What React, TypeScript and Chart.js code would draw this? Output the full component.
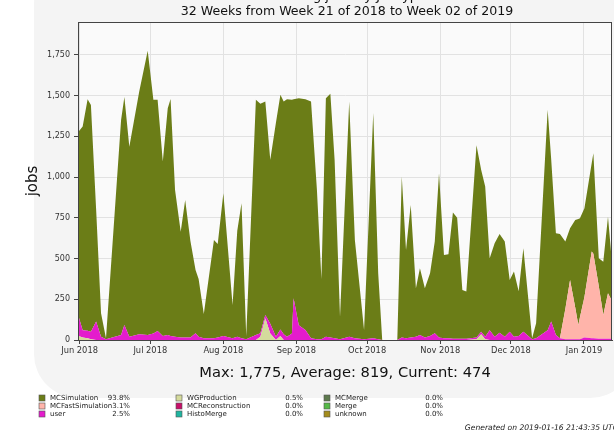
import React, { useEffect, useRef } from "react";
import { Chart, registerables } from "chart.js";

Chart.register(...registerables);

const titleLine1 = "Running jobs by JobType";
const titleLine2 = "32 Weeks from Week 21 of 2018 to Week 02 of 2019";
const statsLine = "Max: 1,775, Average: 819, Current: 474";
const generatedText = "Generated on 2019-01-16 21:43:35 UTC";
const yAxisTitle = "jobs";

// x positions: days since 2018-06-01
const dayOffsets = [
  -0.4, 1.3, 3.4, 4.8, 7.0, 9.1, 11.2, 17.6, 19.0, 21.1,
  25.3, 28.9, 31.3, 33.1, 35.3, 37.4, 38.6, 40.5, 42.9, 44.8,
  47.0, 49.2, 50.5, 52.7, 57.0, 58.6, 61.0, 64.9, 66.9, 68.7,
  70.7, 74.8, 76.7, 78.8, 80.9, 83.3, 85.2, 86.6, 88.0, 90.1,
  90.8, 93.0, 95.8, 98.2, 100.7, 102.6, 104.5, 106.4, 108.2, 110.5,
  114.4, 116.8, 120.7, 124.6, 126.7, 128.4, 134.8, 136.7, 138.5, 140.5,
  142.7, 144.4, 146.5, 148.7, 150.7, 152.5, 154.6, 156.5, 158.4, 160.2,
  162.4, 164.1, 168.4, 170.4, 172.1, 174.0, 176.1, 178.2, 180.4, 182.5,
  184.3, 186.3, 188.3, 192.0, 193.7, 198.6, 200.1, 202.1, 203.8, 206.1,
  208.1, 210.3, 211.6, 212.3, 214.2, 217.3, 218.0, 220.3, 222.2, 224.2,
  225.9,
];

const wgProductionJobs = [
  25, 15, 10, 5, 0, 0, 0, 0, 0, 0,
  0, 0, 0, 0, 0, 0, 0, 0, 0, 0,
  0, 0, 0, 0, 0, 0, 0, 0, 0, 0,
  0, 0, 20, 133, 40, 0, 25, 0, 0, 0,
  0, 0, 0, 0, 0, 0, 0, 0, 0, 0,
  0, 0, 0, 0, 0, 0, 0, 0, 0, 0,
  0, 0, 0, 0, 0, 0, 0, 0, 0, 0,
  0, 0, 5, 35, 5, 0, 0, 0, 0, 0,
  0, 0, 0, 0, 0, 0, 0, 0, 0, 0,
  0, 0, 0, 0, 0, 0, 0, 0, 0, 0,
  0,
];

const userJobs = [
  118, 45, 47, 45, 113, 20, 5, 30, 92, 20,
  35, 31, 40, 55, 25, 31, 25, 20, 15, 15,
  15, 41, 20, 10, 10, 15, 25, 10, 20, 10,
  5, 31, 21, 21, 60, 20, 40, 35, 20, 40,
  256, 90, 61, 10, 5, 5, 20, 15, 10, 5,
  20, 10, 5, 10, 5, 0, 0, 15, 10, 15,
  20, 31, 15, 25, 41, 15, 10, 10, 8, 8,
  8, 8, 10, 16, 15, 60, 20, 45, 20, 50,
  20, 25, 51, 5, 10, 60, 113, 31, 10, 5,
  5, 5, 5, 5, 15, 10, 10, 8, 8, 8,
  8,
];

const mcFastSimulationJobs = [
  0, 0, 0, 0, 0, 0, 0, 0, 0, 0,
  0, 0, 0, 0, 0, 0, 0, 0, 0, 0,
  0, 0, 0, 0, 0, 0, 0, 0, 0, 0,
  0, 0, 0, 0, 0, 0, 0, 0, 0, 0,
  0, 0, 0, 0, 0, 0, 0, 0, 0, 0,
  0, 0, 0, 0, 0, 0, 0, 0, 0, 0,
  0, 0, 0, 0, 0, 0, 0, 0, 0, 0,
  0, 0, 0, 0, 0, 0, 0, 0, 0, 0,
  0, 0, 0, 0, 0, 0, 0, 0, 0, 185,
  364, 195, 87, 135, 249, 533, 520, 322, 146, 279,
  232,
];

const mcSimulationJobs = [
  1137, 1250, 1421, 1393, 692, 144, 5, 1321, 1399, 1167,
  1490, 1744, 1434, 1419, 1070, 1392, 1454, 901, 650, 845,
  595, 389, 355, 150, 604, 575, 876, 205, 650, 830,
  20, 1443, 1409, 1310, 1006, 1313, 1440, 1429, 1458, 1434,
  1222, 1394, 1417, 1454, 916, 370, 1464, 1496, 1096, 138,
  1444, 604, 56, 1383, 405, 0, 0, 988, 543, 814,
  298, 409, 303, 385, 563, 1009, 512, 517, 774, 742,
  299, 289, 1180, 993, 922, 442, 574, 606, 584, 319,
  400, 275, 512, 5, 93, 1353, 997, 624, 641, 414,
  317, 537, 650, 607, 545, 544, 617, 172, 327, 470,
  234,
];

const monthTickDays = [0, 30, 61, 92, 122, 153, 183, 214];
const monthTickLabels = ["Jun 2018", "Jul 2018", "Aug 2018", "Sep 2018", "Oct 2018", "Nov 2018", "Dec 2018", "Jan 2019"];
const yTickValues = [0, 250, 500, 750, 1000, 1250, 1500, 1750];
const yMax = 1952;
const xMin = -0.68;
const xMax = 225.9;

const legendNames = [
  "MCSimulation", "MCFastSimulation", "user",
  "WGProduction", "MCReconstruction", "HistoMerge",
  "MCMerge", "Merge", "unknown",
];
const legendPercents = ["93.8%", "3.1%", "2.5%", "0.5%", "0.0%", "0.0%", "0.0%", "0.0%", "0.0%"];
const legendColors = [
  "#6b7d17", "#ffb4aa", "#e41ccc",
  "#d4da9c", "#c8106a", "#1fb5a0",
  "#5e7a4e", "#55b847", "#a48c1c",
];

const FONT = "'DejaVu Sans', 'Liberation Sans', sans-serif";

function withCommas(v: number): string {
  const s = String(Math.round(v));
  return s.replace(/\B(?=(\d{3})+(?!\d))/g, ",");
}

const decorPlugin = {
  id: "decor",
  beforeDraw(chart: any) {
    const ctx = chart.ctx;
    const { left, top, right, bottom } = chart.chartArea;
    ctx.save();
    ctx.fillStyle = "#ffffff";
    ctx.fillRect(0, 0, chart.width, chart.height);
    // faint watermark-like backdrop
    ctx.fillStyle = "#f4f4f4";
    ctx.beginPath();
    (ctx as any).roundRect(34, -40, 600, 438, 44);
    ctx.fill();
    ctx.fillStyle = "#fafafa";
    ctx.fillRect(left, top, right - left, bottom - top);
    ctx.restore();
  },
  afterDraw(chart: any) {
    const ctx = chart.ctx;
    const { left, top, right, bottom } = chart.chartArea;
    ctx.save();
    // frame
    ctx.strokeStyle = "#444";
    ctx.lineWidth = 1;
    ctx.strokeRect(left + 0.5, top + 0.5, right - left - 1, bottom - top);

    ctx.fillStyle = "#111";
    ctx.textAlign = "center";
    ctx.textBaseline = "alphabetic";
    ctx.font = `13px ${FONT}`;
    ctx.fillText(titleLine1, 347, 0);
    ctx.textBaseline = "middle";
    ctx.font = `12.6px ${FONT}`;
    ctx.fillText(titleLine2, 347, 12);

    // y-axis title
    ctx.save();
    ctx.translate(33, 181);
    ctx.rotate(-Math.PI / 2);
    ctx.font = `15px ${FONT}`;
    ctx.fillText(yAxisTitle, 0, 0);
    ctx.restore();

    // stats line
    ctx.font = `14.7px ${FONT}`;
    ctx.fillText(statsLine, 345, 373);

    // legend
    const boxX = [39, 176, 324];
    const textX = [50, 187, 335];
    const pctX = [130, 303, 443];
    const rowY = [398, 406, 414];
    ctx.font = `7px ${FONT}`;
    for (let i = 0; i < legendNames.length; i++) {
      const col = Math.floor(i / 3);
      const row = i % 3;
      const y = rowY[row];
      ctx.fillStyle = legendColors[i];
      ctx.fillRect(boxX[col], y - 3, 6, 6);
      ctx.strokeStyle = "#555";
      ctx.lineWidth = 0.6;
      ctx.strokeRect(boxX[col], y - 3, 6, 6);
      ctx.fillStyle = "#222";
      ctx.textAlign = "left";
      ctx.fillText(legendNames[i], textX[col], y);
      ctx.textAlign = "right";
      ctx.fillText(legendPercents[i], pctX[col], y);
    }

    ctx.font = `italic 7.6px ${FONT}`;
    ctx.textAlign = "right";
    ctx.fillStyle = "#222";
    ctx.fillText(generatedText, 618, 428);
    ctx.restore();
  },
};

export default function App() {
  const canvasRef = useRef<HTMLCanvasElement | null>(null);

  useEffect(() => {
    document.body.style.margin = "0";
    const canvas = canvasRef.current;
    if (!canvas) return;

    const mk = (label: string, values: number[], color: string, fill: any) => ({
      label,
      data: dayOffsets.map((d, i) => ({ x: d, y: values[i] })),
      backgroundColor: color,
      borderColor: "rgba(0,0,0,0)",
      borderWidth: 0,
      pointRadius: 0,
      pointHoverRadius: 0,
      tension: 0,
      fill,
    });

    const chart = new Chart(canvas, {
      type: "line",
      data: {
        datasets: [
          mk("WGProduction", wgProductionJobs, legendColors[3], "origin"),
          mk("user", userJobs, legendColors[2], "-1"),
          mk("MCFastSimulation", mcFastSimulationJobs, legendColors[1], "-1"),
          mk("MCSimulation", mcSimulationJobs, legendColors[0], "-1"),
        ],
      },
      options: {
        responsive: false,
        animation: false,
        devicePixelRatio: 1,
        layout: { padding: { top: 22, right: 2, bottom: 73, left: 0 } },
        plugins: {
          legend: { display: false },
          tooltip: { enabled: false },
          title: { display: false },
        },
        scales: {
          x: {
            type: "linear",
            min: xMin,
            max: xMax,
            afterBuildTicks: (s: any) => {
              s.ticks = monthTickDays.map((v) => ({ value: v }));
            },
            afterFit: (s: any) => {
              s.height = 20;
            },
            ticks: {
              autoSkip: false,
              maxRotation: 0,
              padding: 2,
              color: "#333",
              font: { family: FONT, size: 8.3 },
              callback: (v: any) => {
                const idx = monthTickDays.indexOf(Number(v));
                return idx >= 0 ? monthTickLabels[idx] : "";
              },
            },
            grid: { color: "#e2e2e2", tickLength: 4, tickColor: "#444" },
            border: { color: "#444" },
          },
          y: {
            stacked: true,
            min: 0,
            max: yMax,
            afterBuildTicks: (s: any) => {
              s.ticks = yTickValues.map((v) => ({ value: v }));
            },
            afterFit: (s: any) => {
              s.width = 78;
            },
            ticks: {
              padding: 4,
              color: "#333",
              font: { family: FONT, size: 8 },
              callback: (v: any) => withCommas(Number(v)),
            },
            grid: { color: "#e2e2e2", tickLength: 4, tickColor: "#444" },
            border: { color: "#444" },
          },
        },
      },
      plugins: [decorPlugin],
    });

    return () => chart.destroy();
  }, []);

  return (
    <div style={{ width: 614, height: 433 }}>
      <canvas ref={canvasRef} width={614} height={433} />
    </div>
  );
}
